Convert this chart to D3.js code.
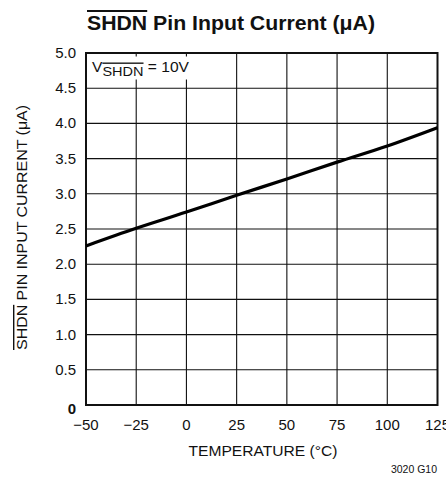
<!DOCTYPE html>
<html>
<head>
<meta charset="utf-8">
<script src="https://cdn.jsdelivr.net/npm/d3@7"></script>
<style>
  body { margin: 0; background: #fff; }
  text { font-family: "Liberation Sans Narrow", "Arial Narrow", "Liberation Sans", sans-serif; fill: #111; }
</style>
</head>
<body>
<svg id="chart" width="446" height="489"></svg>
<script>
// readings, every 25 degrees
var temps = [-50, -25, 0, 25, 50, 75, 100, 125];
var current = [2.26, 2.51, 2.74, 2.98, 3.21, 3.45, 3.68, 3.94];
var xTicks = [-50, -25, 0, 25, 50, 75, 100, 125];
var yTicks = [0, 0.5, 1, 1.5, 2, 2.5, 3, 3.5, 4, 4.5, 5];

var svg = d3.select("#chart"),
    plotL = 86, plotR = 437.5, plotT = 53, plotB = 405;

var x = d3.scaleLinear().domain([-50, 125]).range([plotL, plotR]);
var y = d3.scaleLinear().domain([0, 5]).range([plotB, plotT]);

var fmtX = function(d) { return d < 0 ? "\u2212" + Math.abs(d) : "" + d; };
var fmtY = function(d) { return d === 0 ? "0" : d3.format(".1f")(d); };

// grid
var grid = svg.append("g").attr("stroke", "#111").attr("stroke-width", 1.1);
grid.selectAll(".vx")
    .data(xTicks.slice(1, -1))
    .enter().append("line")
    .attr("x1", function(d) { return x(d); })
    .attr("x2", function(d) { return x(d); })
    .attr("y1", plotT).attr("y2", plotB);
grid.selectAll(".hy")
    .data(yTicks.slice(1, -1))
    .enter().append("line")
    .attr("x1", plotL).attr("x2", plotR)
    .attr("y1", function(d) { return y(d); })
    .attr("y2", function(d) { return y(d); });

// label box over the grid
svg.append("rect")
    .attr("x", plotL + 1.5).attr("y", plotT + 3.5)
    .attr("width", 104).attr("height", 23)
    .attr("fill", "#fff");

var lab = svg.append("text").attr("x", 92).attr("y", 72).attr("font-size", 14.5)
    .attr("textLength", 97).attr("lengthAdjust", "spacingAndGlyphs");
lab.append("tspan").text("V");
lab.append("tspan").attr("dy", 3.5).attr("font-size", 13.5)
    .attr("text-decoration", "overline").text("SHDN");
lab.append("tspan").attr("dy", -3.5).text(" = 10V");

// frame
svg.append("rect")
    .attr("x", plotL).attr("y", plotT)
    .attr("width", plotR - plotL).attr("height", plotB - plotT)
    .attr("fill", "none").attr("stroke", "#111").attr("stroke-width", 2);

// curve
var line = d3.line()
    .x(function(d, i) { return x(temps[i]); })
    .y(function(d) { return y(d); })
    .curve(d3.curveMonotoneX);

svg.append("path")
    .datum(current)
    .attr("d", line)
    .attr("fill", "none")
    .attr("stroke", "#000")
    .attr("stroke-width", 3.2);

// axes labels
svg.selectAll(".ylab")
    .data(yTicks)
    .enter().append("text")
    .attr("x", 76)
    .attr("y", function(d) { return d === 0 ? y(d) + 9 : y(d) + 5; })
    .attr("text-anchor", "end")
    .attr("font-size", 15)
    .attr("font-weight", function(d) { return d === 0 ? "bold" : "normal"; })
    .text(fmtY);

svg.selectAll(".xlab")
    .data(xTicks)
    .enter().append("text")
    .attr("x", function(d) { return x(d); })
    .attr("y", 430)
    .attr("text-anchor", "middle")
    .attr("font-size", 15)
    .text(fmtX);

svg.append("text")
    .attr("x", 188.5).attr("y", 456)
    .attr("font-size", 15)
    .attr("textLength", 149).attr("lengthAdjust", "spacingAndGlyphs")
    .text("TEMPERATURE (\u00b0C)");

var yt = svg.append("text")
    .attr("transform", "translate(27,350) rotate(-90)")
    .attr("font-size", 14)
    .attr("textLength", 245).attr("lengthAdjust", "spacingAndGlyphs");
yt.append("tspan").attr("text-decoration", "overline").text("SHDN");
yt.append("tspan").text(" PIN INPUT CURRENT (\u03bcA)");

var tt = svg.append("text")
    .attr("x", 87).attr("y", 30)
    .attr("font-size", 20)
    .attr("font-weight", "bold")
    .attr("textLength", 288).attr("lengthAdjust", "spacingAndGlyphs");
tt.append("tspan").attr("text-decoration", "overline").text("SHDN");
tt.append("tspan").text(" Pin Input Current (\u03bcA)");

svg.append("text")
    .attr("x", 437).attr("y", 473)
    .attr("text-anchor", "end")
    .attr("font-size", 10.5)
    .text("3020 G10");
</script>
</body>
</html>
